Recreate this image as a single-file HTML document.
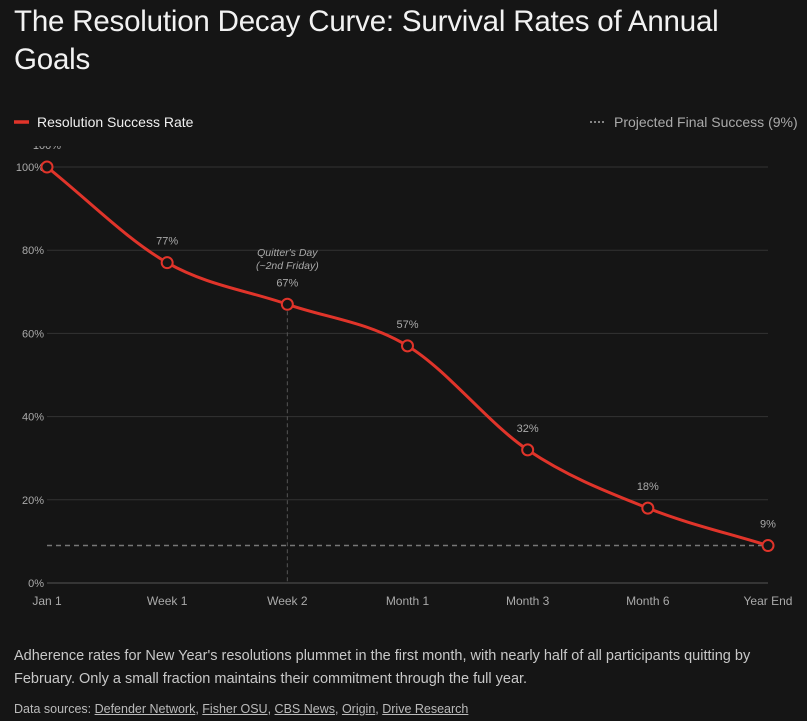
<!DOCTYPE html>
<html><head><meta charset="utf-8"><style>
body{margin:0;background:#151515;width:807px;height:721px;overflow:hidden;font-family:"Liberation Sans",sans-serif;color:#eee}
h1{position:absolute;left:14px;top:3px;margin:0;font-weight:400;font-size:29.5px;line-height:38px;color:#f2f2f2;width:740px;letter-spacing:-0.2px}
.cap{position:absolute;left:14px;top:645px;font-size:14.5px;line-height:23px;color:#c8c8c8;width:790px}
.src{position:absolute;left:14px;top:702px;font-size:12.5px;color:#bbb}
.src a{color:#bbb;text-decoration:underline}
svg{position:absolute;left:0;top:0}
</style></head><body>
<h1>The Resolution Decay Curve: Survival Rates of Annual Goals</h1>
<svg id="c" width="807" height="640"><defs><clipPath id="cl"><rect x="0" y="146" width="807" height="500"/></clipPath></defs></svg>
<div class="cap">Adherence rates for New Year's resolutions plummet in the first month, with nearly half of all participants quitting by February. Only a small fraction maintains their commitment through the full year.</div>
<div class="src">Data sources: <a>Defender Network</a>, <a>Fisher OSU</a>, <a>CBS News</a>, <a>Origin</a>, <a>Drive Research</a></div>
<script>
const categories=["Jan 1","Week 1","Week 2","Month 1","Month 3","Month 6","Year End"];
const successRates=[100,77,67,57,32,18,9];
const yTicks=[0,20,40,60,80,100];
const projectedFinal=9;
const annotationIndex=2;

const NS="http://www.w3.org/2000/svg";
const svg=document.getElementById('c');
const x0=47,x1=768,y0=583,y1=167;
const xs=i=>x0+(x1-x0)*i/(categories.length-1);
const ys=v=>y0-(y0-y1)*v/100;
function mk(t,a,p){const e=document.createElementNS(NS,t);for(const k in a)e.setAttribute(k,a[k]);(p||svg).appendChild(e);return e;}

let lg=mk('line',{x1:14,y1:122,x2:29,y2:122,stroke:'#e0342a','stroke-width':3.5});

let lt=mk('text',{x:37,y:127,fill:'#f0f0f0','font-size':14});lt.textContent='Resolution Success Rate';

let lg2=mk('line',{x1:590,y1:122,x2:606,y2:122,stroke:'#aaa','stroke-width':1.5,'stroke-dasharray':'2,2'});

let lt2=mk('text',{x:614,y:127,fill:'#aaa','font-size':14});lt2.textContent='Projected Final Success (9%)';


const plot=mk('g',{'clip-path':'url(#cl)'});


yTicks.forEach(t=>{
  const g=mk('line',{x1:x0,x2:x1,y1:ys(t),y2:ys(t),stroke:t===0?'#555':'#333','stroke-width':1},plot);
  
  const tx=mk('text',{x:x0-3,y:ys(t)+4,fill:'#aaa','font-size':11,'text-anchor':'end'},plot);tx.textContent=t+'%';
  
});
categories.forEach((c,i)=>{
  const tx=mk('text',{x:xs(i),y:605,fill:'#aaa','font-size':12,'text-anchor':'middle'},plot);tx.textContent=c;
  
});
const ax=xs(annotationIndex);
let al=mk('line',{x1:ax,x2:ax,y1:ys(successRates[annotationIndex]),y2:y0,stroke:'#555','stroke-dasharray':'4,3'},plot);

['Quitter\'s Day','(~2nd Friday)'].forEach((s,k)=>{
  const t=mk('text',{x:ax,y:256+k*13,fill:'#aaa','font-size':10.5,'font-style':'italic','text-anchor':'middle'},plot);t.textContent=s;
  
});
let pl=mk('line',{x1:x0,x2:x1,y1:ys(projectedFinal),y2:ys(projectedFinal),stroke:'#777','stroke-width':1.5,'stroke-dasharray':'5,4'},plot);

const P=successRates.map((v,i)=>[xs(i),ys(v)]);
const n=P.length,d=[],m=[];
for(let i=0;i<n-1;i++)d.push((P[i+1][1]-P[i][1])/(P[i+1][0]-P[i][0]));
for(let i=0;i<n;i++){
  if(i===0)m.push(d[0]);else if(i===n-1)m.push(d[n-2]);
  else m.push(d[i-1]*d[i]<=0?0:(d[i-1]+d[i])/2);
}
for(let i=0;i<n-1;i++){if(d[i]===0){m[i]=m[i+1]=0;continue;}const a=m[i]/d[i],b=m[i+1]/d[i],s=a*a+b*b;if(s>9){const t=3/Math.sqrt(s);m[i]=t*a*d[i];m[i+1]=t*b*d[i];}}
let path='M'+P[0][0]+','+P[0][1];
for(let i=0;i<n-1;i++){const h=(P[i+1][0]-P[i][0])/3;path+=` C${P[i][0]+h},${P[i][1]+m[i]*h} ${P[i+1][0]-h},${P[i+1][1]-m[i+1]*h} ${P[i+1][0]},${P[i+1][1]}`;}
let ln=mk('path',{d:path,fill:'none',stroke:'#e0342a','stroke-width':3},plot);

successRates.forEach((v,i)=>{
  const c=mk('circle',{cx:xs(i),cy:ys(v),r:5.5,fill:'#151515',stroke:'#e0342a','stroke-width':2},plot);
  
  const t=mk('text',{x:xs(i),y:ys(v)-18,fill:'#aaa','font-size':11,'text-anchor':'middle'},plot);t.textContent=v+'%';
  
});
</script>
</body></html>
